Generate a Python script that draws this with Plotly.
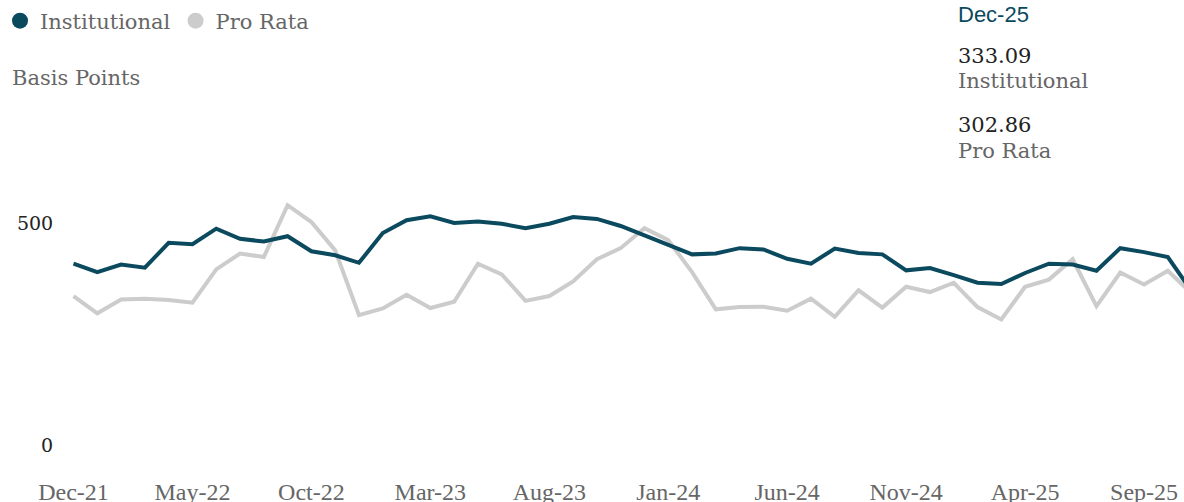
import plotly.graph_objects as go
import pandas as pd

# ---- data ----
MONTHS = list(pd.date_range("2021-12-01", periods=49, freq="MS").strftime("%b-%y"))
INSTITUTIONAL = [409, 390, 407, 400, 456, 453, 488, 465, 459, 471,
                 437, 428, 411, 478, 507, 516, 501, 504, 499, 489,
                 499, 514, 510, 494, 473, 452, 430, 432, 444, 441,
                 420, 409, 443, 433, 430, 394, 399, 383, 366, 363,
                 388, 409, 407, 393, 444, 435, 424, 347, 333.09]
PRO_RATA = [336, 297, 328, 330, 327, 321, 396, 432, 424, 541,
            503, 439, 293, 308, 339, 309, 323, 409, 385, 325,
            336, 369, 419, 444, 489, 462, 390, 306, 311, 312,
            303, 330, 289, 349, 310, 357, 345, 366, 311, 283,
            357, 373, 419, 313, 389, 362, 393, 342, 302.86]
X_TICKS = ["Dec-21", "May-22", "Oct-22", "Mar-23", "Aug-23",
           "Jan-24", "Jun-24", "Nov-24", "Apr-25", "Sep-25"]
Y_TICKS = [0, 500]
LAST_LABEL = "Dec-25"

# ---- styling ----
C_INST = "#0b4a5e"
C_PRO = "#cccccc"
SERIF = "DejaVu Serif"
W, H = 1184, 502
L, R, T, B = 60, 0, 178.6, 57
PW, PH = W - L - R, H - T - B
step = 23.79
first_px = 73.5


def px(xp):
    return (xp - L) / PW


def py(yp):
    return (H - B - yp) / PH


fig = go.Figure()
fig.add_trace(go.Scatter(x=MONTHS, y=PRO_RATA, mode="lines", name="Pro Rata",
                         line=dict(color=C_PRO, width=4), showlegend=False))
fig.add_trace(go.Scatter(x=MONTHS, y=INSTITUTIONAL, mode="lines", name="Institutional",
                         line=dict(color=C_INST, width=4), showlegend=False))
# legend entries (circle markers)
fig.add_trace(go.Scatter(x=[None], y=[None], mode="markers", name="Institutional",
                         marker=dict(color=C_INST, size=17, symbol="circle")))
fig.add_trace(go.Scatter(x=[None], y=[None], mode="markers", name="Pro Rata",
                         marker=dict(color=C_PRO, size=17, symbol="circle")))

x0 = -(first_px - L) / step
x1 = x0 + PW / step

fig.update_xaxes(type="category", categoryorder="array", categoryarray=MONTHS,
                 range=[x0, x1], tickmode="array", tickvals=X_TICKS, ticktext=X_TICKS,
                 showgrid=False, zeroline=False, showline=False, automargin=False,
                 ticks="outside", ticklen=25, tickcolor="rgba(0,0,0,0)",
                 tickfont=dict(family="Liberation Serif", size=24, color="#666666"))
fig.update_yaxes(range=[0, 600], tickmode="array", tickvals=Y_TICKS,
                 ticktext=[str(v) for v in Y_TICKS], automargin=False,
                 showgrid=False, zeroline=False, showline=False,
                 ticks="outside", ticklen=2, tickcolor="rgba(0,0,0,0)",
                 tickfont=dict(family=SERIF, size=19, color="#222222"))

ann = [
    dict(text="Basis Points", x=px(10), y=py(77), xanchor="left", yanchor="middle",
         font=dict(family=SERIF, size=21, color="#666666")),
    dict(text=LAST_LABEL, x=px(956), y=py(14), xanchor="left", yanchor="middle",
         font=dict(family="Liberation Sans", size=22, color=C_INST)),
    dict(text=f"{INSTITUTIONAL[-1]:.2f}", x=px(956), y=py(55), xanchor="left", yanchor="middle",
         font=dict(family=SERIF, size=21, color="#222222")),
    dict(text="Institutional", x=px(956), y=py(80), xanchor="left", yanchor="middle",
         font=dict(family=SERIF, size=21, color="#666666")),
    dict(text=f"{PRO_RATA[-1]:.2f}", x=px(956), y=py(125), xanchor="left", yanchor="middle",
         font=dict(family=SERIF, size=21, color="#222222")),
    dict(text="Pro Rata", x=px(956), y=py(151), xanchor="left", yanchor="middle",
         font=dict(family=SERIF, size=21, color="#666666")),
]
for a in ann:
    a.update(xref="paper", yref="paper", showarrow=False)

fig.update_layout(
    width=W, height=H, autosize=False,
    margin=dict(l=L, r=R, t=T, b=B, pad=0, autoexpand=False),
    paper_bgcolor="white", plot_bgcolor="white",
    annotations=ann,
    legend=dict(orientation="h", xref="container", yref="container",
                x=-4 / W, y=1 - 21 / H, xanchor="left", yanchor="middle",
                font=dict(family=SERIF, size=21, color="#666666"),
                itemsizing="trace", itemwidth=30, tracegroupgap=0,
                bgcolor="rgba(0,0,0,0)"),
    showlegend=True,
    hovermode=False,
)

fig.write_html("out.html", config={"displayModeBar": False},
               post_script="document.body.style.margin='0';document.body.style.overflow='hidden';")
